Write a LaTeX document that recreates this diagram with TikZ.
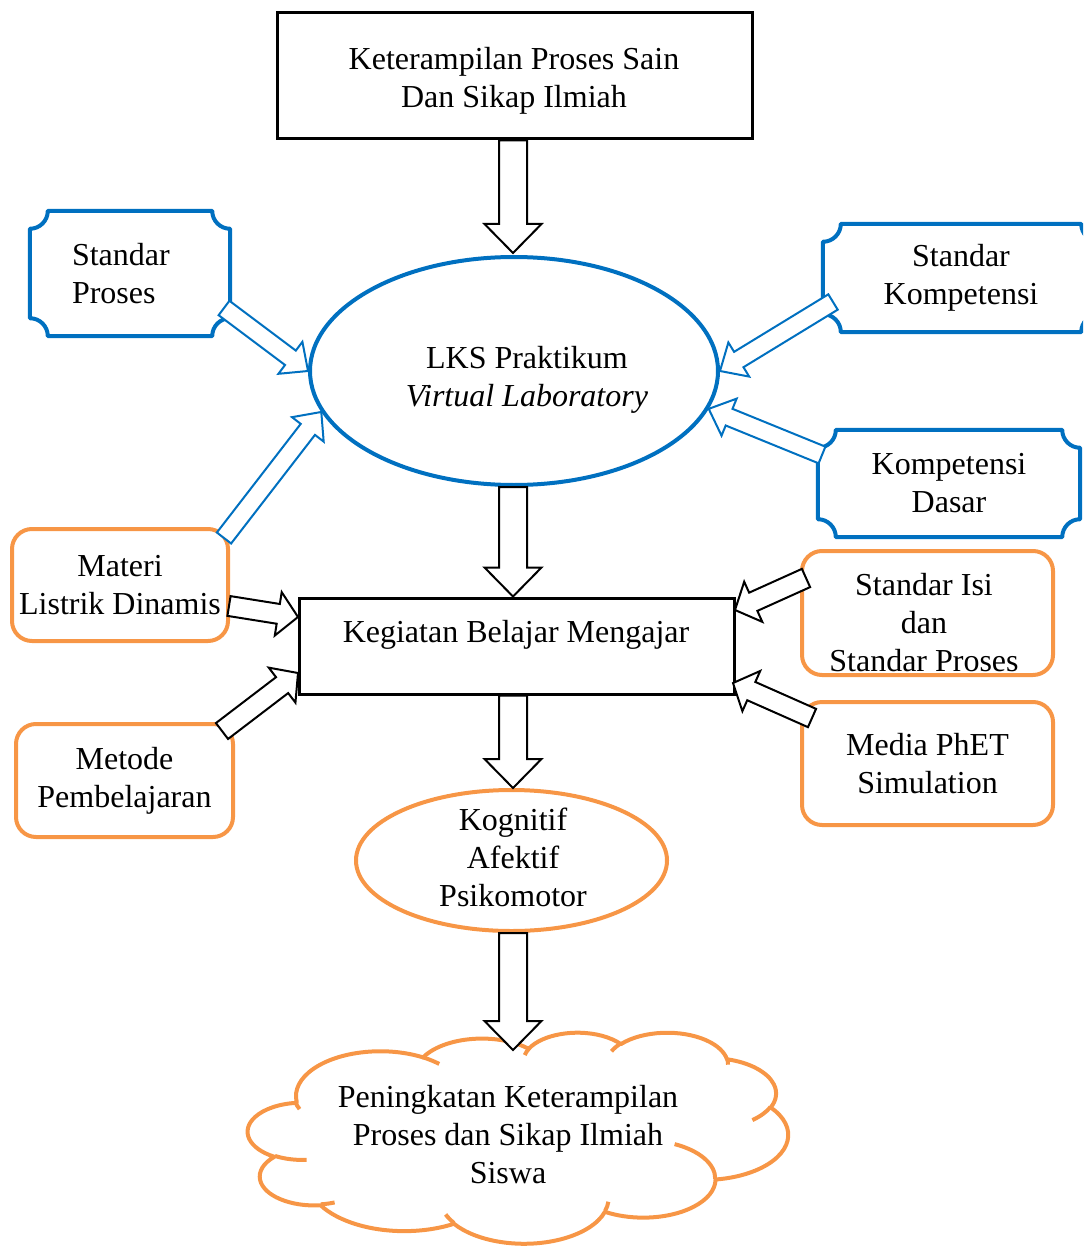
\documentclass[tikz,border=0pt]{standalone}
\usepackage{fontspec}
\setmainfont{Liberation Serif}
\usetikzlibrary{calc,shapes.geometric}
\definecolor{myblue}{HTML}{0070C0}
\definecolor{myorange}{HTML}{F79646}
\tikzset{
  txt/.style={font=\fontsize{32}{38}\selectfont, align=center, inner sep=0pt},
  blackbox/.style={txt, draw=black, line width=3pt, rectangle},
  plaquenode/.style={txt, rectangle},
  plaqueline/.style={draw=myblue, line width=4pt, line join=round},
  orangebox/.style={txt, draw=myorange, line width=4pt, rectangle, rounded corners=20pt},
  cloudline/.style={draw=myorange, line width=4pt, line join=round},
  bluearrow/.style={draw=myblue, line width=2pt, fill=white, line join=miter},
  blackarrow/.style={draw=black, line width=2pt, fill=white, line join=miter},
}
% #1 node name: concave-cornered plaque frame
\newcommand\plaqueframe[1]{%
  \draw[plaqueline] ([xshift=18pt]#1.north west) -- ([xshift=-18pt]#1.north east)
    .. controls +(0,-10pt) and +(-10pt,0) .. ([yshift=-18pt]#1.north east)
    -- ([yshift=18pt]#1.south east)
    .. controls +(-10pt,0) and +(0,10pt) .. ([xshift=-18pt]#1.south east)
    -- ([xshift=18pt]#1.south west)
    .. controls +(0,10pt) and +(10pt,0) .. ([yshift=18pt]#1.south west)
    -- ([yshift=-18pt]#1.north west)
    .. controls +(10pt,0) and +(0,-10pt) .. ([xshift=18pt]#1.north west) -- cycle;}
% #1 style, #2 tail, #3 tip, #4 shaft half width, #5 head half width, #6 head length
\newcommand\blockarrow[6][]{%
  \coordinate (ba-h) at ($(#3)!#6!(#2)$);
  \draw[#1] ($(#2)!#4!90:(#3)$) -- ($(ba-h)!#4!90:(#3)$) -- ($(ba-h)!#5!90:(#3)$)
    -- (#3) -- ($(ba-h)!#5!-90:(#3)$) -- ($(ba-h)!#4!-90:(#3)$)
    -- ($(#2)!#4!-90:(#3)$) -- cycle;}
% elliptic arc with visual start angle #3 and visual sweep #4 (radii #1, #2)
\newcommand\oarc[4]{%
  \pgfextra{%
    \pgfmathparse{atan2((#1)*sin(#3),(#2)*cos(#3))}\xdef\oats{\pgfmathresult}%
    \pgfmathparse{atan2((#1)*sin((#3)+(#4)),(#2)*cos((#3)+(#4)))}\xdef\oate{\pgfmathresult}%
    \pgfmathparse{mod(\oate-\oats+720,360)}\xdef\oatd{\pgfmathresult}}%
  arc[start angle=\oats, delta angle=\oatd, x radius=#1, y radius=#2]}
\begin{document}
\begin{tikzpicture}[x=1pt,y=1pt]
\useasboundingbox (0,0) rectangle (1083,-1246);
\clip (0,0) rectangle (1083,-1246);
% top box
\node[blackbox, minimum width=475pt, minimum height=126pt] (top) at (514.5,-76) {};
\node[txt] (toptxt) at (514,-81) {Keterampilan Proses Sain\\Dan Sikap Ilmiah};
% LKS ellipse
\node[ellipse, draw=myblue, line width=4pt, minimum width=408pt, minimum height=228pt, inner sep=0pt] (lks) at (514,-371) {};
\node[txt] (lkst) at (527,-380) {LKS Praktikum\\\textit{Virtual Laboratory}};
% plaques
\node[plaquenode, minimum height=125pt, text width=116pt, align=left, inner xsep=42pt] (sp) at (130,-273.5) {Standar\\Proses};
\plaqueframe{sp}
\node[plaquenode, minimum width=276pt, minimum height=108pt] (sk) at (961,-278) {Standar\\Kompetensi};
\plaqueframe{sk}
\node[plaquenode, minimum width=262pt, minimum height=107pt] (kd) at (949,-483.5) {Kompetensi\\Dasar};
\plaqueframe{kd}
% KBM
\node[blackbox, minimum width=435pt, minimum height=96pt] (kbm) at (516.5,-646) {};
\node[txt] (kbmt) at (516,-635) {Kegiatan Belajar Mengajar};
% orange boxes
\node[orangebox, minimum width=216pt, minimum height=112pt] (mat) at (120,-585) {Materi\\Listrik Dinamis};
\node[orangebox, minimum width=217pt, minimum height=113pt] (met) at (124.5,-780.5) {Metode\\Pembelajaran};
\node[orangebox, minimum width=251pt, minimum height=124pt] (si) at (927.5,-613) {};
\node[txt] (sit) at (924,-623) {Standar Isi\\dan\\Standar Proses};
\node[orangebox, minimum width=251pt, minimum height=123pt] (me) at (927.5,-763.5) {Media PhET\\Simulation};
% Kognitif ellipse
\node[ellipse, draw=myorange, line width=4pt, minimum width=311pt, minimum height=141pt, inner sep=0pt] (kog) at (511.5,-860.5) {};
\node[txt] (kogt) at (513,-857) {Kognitif\\Afektif\\Psikomotor};
% cloud (drawn in a 432 x 432 frame, y downwards)
\begin{scope}[shift={(248,-1032)}, xscale=1.25, yscale=-0.4884]
\draw[cloudline] (39.00,143.70)
  \oarc{67.53}{91.90}{-190.4875}{123.7805}
  \oarc{53.33}{72.67}{-144.1024}{89.9452}
  \oarc{43.65}{59.45}{-145.8079}{99.7230}
  \oarc{48.57}{65.95}{-130.9861}{117.2417}
  \oarc{53.33}{72.73}{-78.7089}{109.0269}
  \oarc{67.75}{92.20}{-46.2673}{130.2690}
  \oarc{57.85}{78.67}{0.6250}{114.0333}
  \oarc{67.52}{92.15}{22.4516}{115.1726}
  \oarc{77.20}{105.43}{66.2426}{75.7110}
  \oarc{43.60}{59.18}{-274.9421}{146.7356}
  \oarc{43.45}{59.45}{-246.8285}{152.5189}
  -- cycle;
\draw[cloudline]
  (46.93,261.77) \oarc{43.45}{59.45}{86.7420}{26.4295}
  (69.28,348.99) \oarc{43.60}{59.18}{73.6105}{11.4475}
  (164.78,390.90) \oarc{67.52}{92.15}{137.6242}{14.0811}
  (288.27,347.51) \oarc{67.52}{92.15}{6.4533}{15.9984}
  (341.29,229.54) \oarc{57.85}{78.67}{-70.2924}{70.9174}
  (417.98,153.54) \oarc{53.33}{72.73}{30.3180}{27.7515}
  (383.24,54.26) \oarc{48.57}{65.95}{-13.7443}{14.8589}
  (290.78,39.52) \oarc{48.57}{65.95}{-149.1815}{18.1954}
  (221.41,47.20) \oarc{43.65}{59.45}{-163.4943}{17.6864}
  (140.00,51.92) \oarc{67.53}{91.90}{-66.7070}{12.3194}
  (41.27,157.89) \oarc{67.53}{91.90}{150}{12};
\end{scope}
\node[txt] (clt) at (508,-1135) {Peningkatan Keterampilan\\Proses dan Sikap Ilmiah\\Siswa};
% arrow end points
\coordinate (b1s) at (224,-308);
\coordinate (b2s) at (224,-538);
\coordinate (b3s) at (833,-302);
\coordinate (b4s) at (822,-455);
\coordinate (k1s) at (229,-606);
\coordinate (k1e) at (298,-617);
\coordinate (k2s) at (222,-731);
\coordinate (k2e) at (298,-673);
\coordinate (k3s) at (806,-578);
\coordinate (k3e) at (735,-610);
\coordinate (k4s) at (812,-718);
\coordinate (k4e) at (733,-683);
\coordinate (v1s) at (top.south -| 513,0);
\coordinate (v1e) at (513,-253);
\coordinate (v2s) at (513,-487);
\coordinate (v2e) at (kbm.north -| 513,0);
\coordinate (v3s) at (kbm.south -| 513,0);
\coordinate (v3e) at (513,-788);
\coordinate (v4s) at (513,-933);
\coordinate (v4e) at (513,-1050);
% vertical black arrows
\blockarrow[blackarrow]{v1s}{v1e}{14pt}{28.5pt}{29pt}
\blockarrow[blackarrow]{v2s}{v2e}{14pt}{28.5pt}{29pt}
\blockarrow[blackarrow]{v3s}{v3e}{14pt}{28.5pt}{29pt}
\blockarrow[blackarrow]{v4s}{v4e}{14pt}{28.5pt}{29pt}
% blue arrows
\blockarrow[bluearrow]{b1s}{lks.west}{9pt}{20pt}{22pt}
\blockarrow[bluearrow]{b2s}{lks.192}{9pt}{20pt}{22pt}
\blockarrow[bluearrow]{b3s}{lks.east}{9pt}{20pt}{22pt}
\blockarrow[bluearrow]{b4s}{lks.349}{9pt}{20pt}{22pt}
% black diagonal arrows
\blockarrow[blackarrow]{k1s}{k1e}{10pt}{22pt}{20pt}
\blockarrow[blackarrow]{k2s}{k2e}{10pt}{22pt}{20pt}
\blockarrow[blackarrow]{k3s}{k3e}{10pt}{22pt}{20pt}
\blockarrow[blackarrow]{k4s}{k4e}{10pt}{22pt}{20pt}
\end{tikzpicture}
\end{document}
